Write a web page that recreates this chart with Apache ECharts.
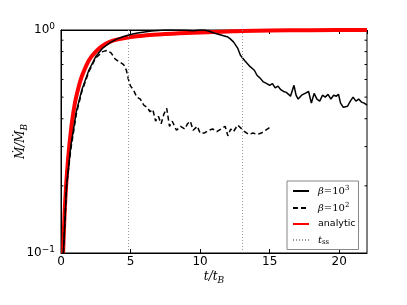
<!DOCTYPE html>
<html><head><meta charset="utf-8">
<script src="https://cdn.jsdelivr.net/npm/echarts@6/dist/echarts.min.js"></script>
<style>html,body{margin:0;padding:0;background:#fff}#c{width:407px;height:305px}</style>
</head><body><div id="c"></div>
<script>
// beta = 10^3 (solid)
const beta3T = [0.17,0.4,0.7,1.1,1.5,2.0,2.5,3.0,3.5,4.0,4.5,5.0,5.5,6.0,6.5,7.0,7.5,8.0,9.0,9.5,10.0,10.3,10.6,11.0,11.5,12.0,12.15,12.25,12.4,12.7,12.9,13.2,13.6,13.9,14.1,14.3,14.55,14.8,15.0,15.2,15.4,15.6,15.8,16.0,16.2,16.5,16.75,16.9,17.05,17.3,17.55,17.8,18.0,18.2,18.4,18.6,18.8,19.0,19.2,19.4,19.6,19.8,19.95,20.1,20.3,20.6,20.8,21.0,21.2,21.4,21.6,21.8,22.0];
const beta3V = [0.1,0.2,0.3,0.43,0.54,0.66,0.76,0.83,0.875,0.91,0.935,0.955,0.97,0.98,0.99,0.995,1.0,1.0,0.997,0.993,1.0,1.0,0.99,0.97,0.95,0.93,0.915,0.92,0.885,0.83,0.77,0.73,0.685,0.66,0.625,0.61,0.585,0.575,0.565,0.575,0.55,0.56,0.54,0.53,0.525,0.505,0.565,0.51,0.49,0.51,0.52,0.53,0.47,0.52,0.49,0.48,0.51,0.5,0.515,0.49,0.51,0.505,0.515,0.47,0.45,0.455,0.48,0.5,0.48,0.49,0.475,0.47,0.46];
// beta = 10^2 (dashed)
const beta2T = [0.17,0.4,0.7,1.1,1.5,2.0,2.5,3.0,3.3,3.6,3.9,4.2,4.5,4.7,4.85,5.0,5.2,5.45,5.7,5.95,6.2,6.4,6.6,6.8,7.0,7.2,7.4,7.6,7.8,8.0,8.3,8.6,8.9,9.1,9.3,9.5,9.8,10.0,10.3,10.6,10.9,11.2,11.5,11.8,12.0,12.2,12.4,12.7,13.0,13.2,13.5,13.8,14.1,14.4,14.7,15.0];
const beta2V = [0.1,0.2,0.29,0.42,0.53,0.65,0.75,0.8,0.81,0.79,0.74,0.72,0.7,0.66,0.6,0.56,0.54,0.5,0.49,0.46,0.45,0.43,0.44,0.39,0.41,0.38,0.42,0.445,0.37,0.39,0.355,0.37,0.36,0.38,0.39,0.355,0.37,0.345,0.345,0.355,0.36,0.35,0.36,0.37,0.335,0.36,0.35,0.375,0.36,0.35,0.34,0.345,0.34,0.345,0.355,0.365];
// analytic (red)
const anT = [0.15,0.3,0.5,0.75,1.0,1.25,1.5,2.0,2.5,3.0,3.5,4.0,5.0,6.0,7.0,8.0,9.0,10.0,11.0,12.0,13.0,15.0,18.0,22.0];
const anV = [0.1,0.17,0.26,0.37,0.47,0.55,0.62,0.73,0.8,0.85,0.885,0.905,0.93,0.945,0.955,0.963,0.97,0.975,0.98,0.985,0.99,0.995,0.998,1.0];
// t_ss markers
const tss = [4.8, 13.0];
const xTicks = [0, 5, 10, 15, 20];
const yMinor = [0.2,0.3,0.4,0.5,0.6,0.7,0.8,0.9];

const zip = (a, b) => a.map((t, i) => [t, b[i]]);
const serif = 'DejaVu Serif';
const chart = echarts.init(document.getElementById('c'), null, {renderer: 'canvas'});
const axisCommon = {
  axisLine: {show: true, lineStyle: {color: '#000', width: 1}},
  splitLine: {show: false}
};
const labRich = {
  i: {fontFamily: serif, fontStyle: 'italic', fontSize: 12, color: '#000'},
  sb: {fontFamily: serif, fontStyle: 'italic', fontSize: 9, color: '#000', padding: [7, 0, 0, 0]}
};
chart.setOption({
  animation: false,
  backgroundColor: '#fff',
  grid: {left: 61, right: 40, top: 30, bottom: 52, containLabel: false, outerBoundsMode: 'none',
    show: true, borderColor: '#000', borderWidth: 1, backgroundColor: 'transparent'},
  xAxis: [
    Object.assign({type: 'value', min: 0, max: 22, interval: 5, position: 'bottom',
      name: '{i|t/t}{sb|B}', nameLocation: 'middle', nameGap: 16, nameMoveOverlap: false,
      nameTextStyle: {rich: labRich},
      axisTick: {show: true, inside: true, length: 4, lineStyle: {color: '#000'}},
      axisLabel: {color: '#000', fontFamily: 'DejaVu Sans', fontSize: 12, margin: 3, showMaxLabel: false,
        formatter: v => xTicks.includes(v) ? String(v) : ''}}, axisCommon),
    Object.assign({type: 'value', min: 0, max: 22, interval: 5, position: 'top',
      axisTick: {show: true, inside: true, length: 4, lineStyle: {color: '#000'}},
      axisLabel: {show: false}}, axisCommon)
  ],
  yAxis: [
    Object.assign({type: 'log', logBase: 10, min: 0.1, max: 1,
      name: '{i|\u1e40/\u1e40}{sb|B}', nameLocation: 'middle', nameRotate: 90, nameGap: 32, nameMoveOverlap: false,
      nameTextStyle: {rich: labRich},
      axisTick: {show: true, inside: true, length: 4, lineStyle: {color: '#000'}},
      axisLabel: {color: '#000', margin: 6,
        formatter: v => v >= 1 ? '{b|10}{s|0}' : '{b|10}{s|\u22121}',
        rich: {b: {fontFamily: 'DejaVu Sans', fontSize: 12, color: '#000', lineHeight: 16},
               s: {fontFamily: 'DejaVu Sans', fontSize: 9, color: '#000', verticalAlign: 'top', lineHeight: 10, padding: [0,0,6,0]}}}}, axisCommon)
  ],
  legend: {
    orient: 'vertical', left: 287, top: 181,
    backgroundColor: '#fff', borderColor: '#888', borderWidth: 1, borderRadius: 0,
    padding: [4, 3, 4, 5], itemGap: 6, itemWidth: 16, itemHeight: 12,
    itemStyle: {opacity: 0},
    data: ['b3', 'b2', 'analytic', 'tss'],
    formatter: n => n === 'b3' ? '{i|\u03b2}{n|=10}{s|3}' : n === 'b2' ? '{i|\u03b2}{n|=10}{s|2}' : n === 'tss' ? '{i|t}{ss|ss}' : '{a|analytic}',
    textStyle: {padding: [0, 0, 0, 4],
      rich: {
        i: {fontFamily: serif, fontStyle: 'italic', fontSize: 10, color: '#000'},
        n: {fontFamily: serif, fontSize: 10, color: '#000'},
        s: {fontFamily: serif, fontSize: 7, color: '#000', verticalAlign: 'top', padding: [0,0,5,0]},
        ss: {fontFamily: serif, fontSize: 7, color: '#000', padding: [4,0,0,0]},
        a: {fontFamily: 'DejaVu Sans', fontSize: 9.5, color: '#000'}
      }}
  },
  series: [
    {name: 'tss', type: 'line', data: [], symbol: 'none', silent: true, xAxisIndex: 0,
      color: '#999',
      lineStyle: {color: '#999', width: 1, type: [1, 2]}, itemStyle: {color: '#999'},
      markLine: {symbol: 'none', silent: true, label: {show: false},
        lineStyle: {color: '#999', width: 1, type: [1, 2]},
        data: tss.map(t => ({xAxis: t}))}},
    {name: 'analytic', type: 'line', data: zip(anT, anV), symbol: 'none', smooth: 0.3, z: 3,
      lineStyle: {color: '#ff0000', width: 4}, itemStyle: {color: '#ff0000'}},
    {name: 'b3', type: 'line', data: zip(beta3T, beta3V), symbol: 'none', z: 4,
      lineStyle: {color: '#000', width: 1.5}, itemStyle: {color: '#000'}},
    {name: 'b2', type: 'line', data: zip(beta2T, beta2V), symbol: 'none', z: 4,
      lineStyle: {color: '#000', width: 1.5, type: [5, 3]}, itemStyle: {color: '#000'}},
    {name: 'minor', type: 'custom', data: yMinor.map(v => [0, v]), silent: true, z: 5,
      renderItem: (params, api) => {
        const v = api.value(1);
        const l = api.coord([0, v]);
        const r = api.coord([22, v]);
        return {type: 'group', children: [
          {type: 'line', shape: {x1: l[0], y1: l[1], x2: l[0] + 2.5, y2: l[1]}, style: {stroke: '#000', lineWidth: 1}},
          {type: 'line', shape: {x1: r[0], y1: r[1], x2: r[0] - 2.5, y2: r[1]}, style: {stroke: '#000', lineWidth: 1}}
        ]};
      }}
  ]
});
</script></body></html>
